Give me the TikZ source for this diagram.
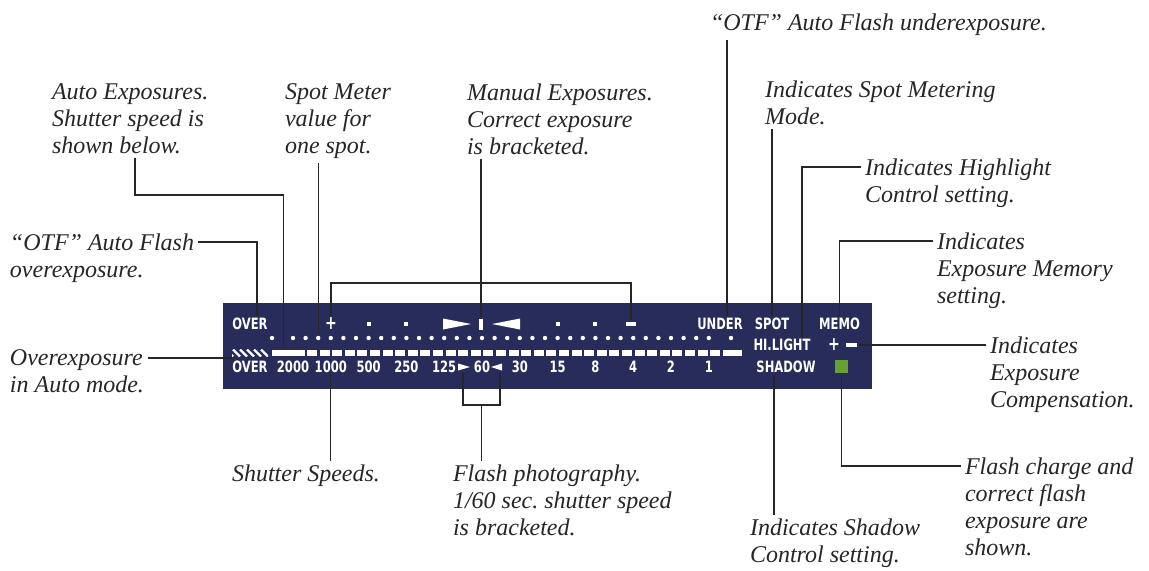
\documentclass[tikz,border=0pt]{standalone}
\usepackage{fontspec}
\setmainfont{Liberation Serif}
\newfontfamily\lcdfont{DejaVu Sans}[FakeStretch=0.74]
\definecolor{panelblue}{RGB}{40,44,90}
\definecolor{flashgreen}{RGB}{104,160,52}
\tikzset{
  lead/.style={black!85,line width=0.65pt},
  lbl/.style={font=\fontsize{12}{13.5}\selectfont\itshape,align=left,anchor=north west,
    inner sep=0pt,outer sep=2pt,text=black!85},
  lcd/.style={font=\lcdfont\bfseries\fontsize{7.8}{8.5}\selectfont,text=white,inner sep=0pt,outer sep=1pt},
  lcdplus/.style={lcd,font=\lcdfont\bfseries\fontsize{9.5}{10}\selectfont},
  ledot/.style={circle,fill=white,inner sep=0pt,minimum size=2.2pt,outer sep=1pt},
  segbar/.style={fill=white,inner sep=0pt,minimum height=3pt,outer sep=1pt},
}
\frenchspacing
\begin{document}
\begin{tikzpicture}[x=0.5pt,y=-0.5pt]
\useasboundingbox (0,0) rectangle (1149,570);
% the display panel
\fill[panelblue] (223,303) rectangle (872,389);
% top row
\node[lcd] (over1) at (250,324) {OVER};
\node[lcdplus] (plus) at (331,324) {+};
\foreach \x in {369,406,558,595}
  \fill[white] (\x-2,322) rectangle (\x+2,326);
\fill[white] (443,318.5) -- (471,324) -- (443,329.5) -- cycle;
\node[fill=white,inner sep=0pt,minimum width=2pt,minimum height=5.5pt,outer sep=1pt] (evbar) at (481,324) {};
\fill[white] (520,318.5) -- (492,324) -- (520,329.5) -- cycle;
\node[segbar,minimum width=5pt,minimum height=1.6pt] (minus) at (631,324) {};
\node[lcd] (under) at (720,324) {UNDER};
\node[lcd] (spot) at (772,324) {SPOT};
\node[lcd] (memo) at (839.5,324) {MEMO};
% dot row
\node[ledot] (odotL) at (272,338) {};
\foreach \i in {0,...,33}
  \node[ledot] (dot\i) at ({293+12.6*\i},338) {};
\node[ledot] (odotR) at (731,338) {};
% bar row
\begin{scope}
  \clip (232,349.5) rectangle (268,356.5);
  \foreach \k in {0,...,5}
    \draw[white,line width=1.2pt] ({226+7*\k},349.5) -- ({233+7*\k},356.5);
\end{scope}
\coordinate (hatch) at (232,358);
\node[segbar,minimum width=16.5pt] (lbar) at (288.5,353) {};
\foreach \k in {1,...,33}
  \fill[white] ({293+12.6*\k+1.3},350) rectangle ({293+12.6*(\k+1)-1.3},356);
\fill[white] (722.5,350) rectangle (742,356);
\node[lcd] (hil) at (782,345) {HI.LIGHT};
\node[lcdplus] (hplus) at (834,345) {+};
\node[segbar,minimum width=5.5pt,minimum height=1.6pt] (hminus) at (851,345) {};
% speed row
\node[lcd] (over2) at (250,367) {OVER};
\foreach \s [count=\m from 0] in {2000,1000,500,250,125,60,30,15,8,4,2,1}
  \node[lcd] (sp\m) at ({293+37.8*\m},367) {\s};
\fill[white] (458,363.5) -- (470,367) -- (458,370.5) -- cycle;
\fill[white] (502,363.5) -- (491,367) -- (502,370.5) -- cycle;
\coordinate (fltri) at (463,373);
\coordinate (frtri) at (500,373);
\node[lcd] (shadow) at (786,367) {SHADOW};
\node[fill=flashgreen,minimum size=6.5pt,inner sep=0pt,outer sep=1pt] (charge) at (841.5,366.5) {};

% labels
\node[lbl] (autoexp) at (48,80) {Auto Exposures.\\Shutter speed is\\shown below.};
\node[lbl] (spotval) at (281,80) {Spot Meter\\value for\\one spot.};
\node[lbl] (manual) at (463,80) {Manual Exposures.\\Correct exposure\\is bracketed.};
\node[lbl] (otfunder) at (706,10) {“OTF” Auto Flash underexposure.};
\node[lbl] (spotmode) at (761,77) {Indicates Spot Metering\\Mode.};
\node[lbl] (hilbl) at (861,155) {Indicates Highlight\\Control setting.};
\node[lbl] (memolbl) at (933,229) {Indicates\\Exposure Memory\\setting.};
\node[lbl] (complbl) at (986,333) {Indicates\\Exposure\\Compensation.};
\node[lbl] (chargelbl) at (961,454) {Flash charge and\\correct flash\\exposure are\\shown.};
\node[lbl] (shadowlbl) at (746,515) {Indicates Shadow\\Control setting.};
\node[lbl] (flashlbl) at (449,461) {Flash photography.\\1/60 sec. shutter speed\\is bracketed.};
\node[lbl] (speedlbl) at (228,461) {Shutter Speeds.};
\node[lbl] (otfover) at (6,230) {“OTF” Auto Flash\\overexposure.};
\node[lbl] (overauto) at (6,346) {Overexposure\\in Auto mode.};

% leader lines
\coordinate (autoknee) at (135,195);
\draw[lead] (autoexp.south -| autoknee) -- (autoknee) -| ([xshift=-2.5pt]lbar.north);
\draw[lead] (spotval.south -| dot2.north) -- (dot2.north);
\draw[lead] (manual.south -| evbar.north) -- (evbar.north);
\coordinate (evtop) at (481,283);
\draw[lead] (plus.north) |- (evtop) -| (minus.north);
\coordinate (underA) at ([xshift=3.5pt]under.north);
\draw[lead] (otfunder.south -| underA) -- (underA);
\draw[lead] (spotmode.south -| spot.north) -- (spot.north);
\coordinate (hilA) at ([xshift=10pt]hil.north);
\coordinate (hilB) at ([yshift=-6pt]hilbl.north west);
\draw[lead] (hilB) -| (hilA);
\coordinate (memoB) at ([yshift=-6pt]memolbl.north west);
\draw[lead] (memoB) -| (memo.north);
\draw[lead] (hminus.east) -- (hminus.east -| complbl.west);
\coordinate (shadowA) at ([xshift=-6pt]shadow.south);
\draw[lead] (shadowA) -- (shadowA |- shadowlbl.north);
\coordinate (chargeB) at ([yshift=-6pt]chargelbl.north west);
\draw[lead] (charge.south) |- (chargeB);
\draw[lead] (sp1.south) -- (sp1.south |- speedlbl.north);
\coordinate (flmid) at (481.5,405);
\draw[lead] (fltri) |- (flmid) -| (frtri);
\draw[lead] (flmid) -- (flmid |- flashlbl.north);
\coordinate (otfB) at ([yshift=-6pt]otfover.north east);
\coordinate (overA) at ([xshift=3.5pt]over1.north);
\draw[lead] (otfB) -| (overA);
\coordinate (overB) at ([yshift=-6pt]overauto.north east);
\draw[lead] (overB) -- (overB -| hatch);
\end{tikzpicture}
\end{document}
